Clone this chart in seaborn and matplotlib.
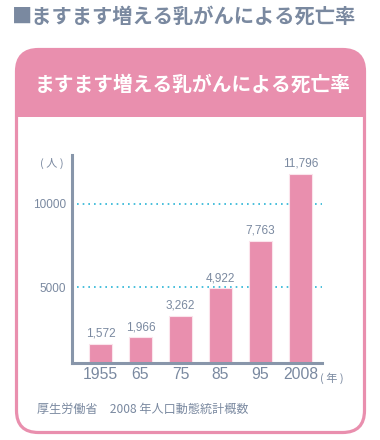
import matplotlib
matplotlib.use("Agg")
import matplotlib.pyplot as plt
import seaborn as sns
import pandas as pd
from matplotlib import font_manager
from matplotlib.patches import FancyBboxPatch, Rectangle

years = ["1955", "65", "75", "85", "95", "2008"]
deaths = [1572, 1966, 3262, 4922, 7763, 11796]
value_labels = ["1,572", "1,966", "3,262", "4,922", "7,763", "11,796"]
yticks = [5000, 10000]
title = "■ますます増える乳がんによる死亡率"
header = "ますます増える乳がんによる死亡率"
source = "厚生労働省　2008 年人口動態統計概数"

names = {f.name for f in font_manager.fontManager.ttflist}
NUM = "Liberation Sans Narrow" if "Liberation Sans Narrow" in names else "Liberation Sans"
JP = ["Noto Sans CJK JP", "DejaVu Sans"]

sns.set_theme(style="white")
plt.rcParams["font.family"] = JP

PINK = "#e98fae"
GRAY = "#7a89a0"
AXC = "#8896aa"
CYAN = "#2ab4d6"

df = pd.DataFrame({"year": years, "deaths": deaths})

fig = plt.figure(figsize=(3.8, 4.4), dpi=100)

# decorative frame in pixel coordinates
bg = fig.add_axes([0, 0, 1, 1])
bg.set_xlim(0, 380)
bg.set_ylim(440, 0)
bg.axis("off")
bg.add_patch(FancyBboxPatch((16.5, 49.5), 348, 100, boxstyle="round,pad=0,rounding_size=22",
                            facecolor=PINK, edgecolor="none"))
bg.add_patch(Rectangle((16.5, 117), 348, 40, facecolor="white", edgecolor="none"))
bg.add_patch(FancyBboxPatch((16.5, 49.5), 348, 383, boxstyle="round,pad=0,rounding_size=22",
                            facecolor="none", edgecolor=PINK, linewidth=2.3))
fig.text(12 / 380, 1 - 16 / 440, title, fontsize=14.6, fontweight="bold", color=GRAY,
         ha="left", va="center")
fig.text(35 / 380, 1 - 85 / 440, header, fontsize=14.2, fontweight="bold", color="white",
         ha="left", va="center")
fig.text(37 / 380, 1 - 409 / 440, source, fontsize=8.7, color=GRAY, ha="left", va="center")

ax = fig.add_axes([72 / 380, 1 - 363 / 440, 250 / 380, 208 / 440])
ax.patch.set_alpha(0)
sns.barplot(data=df, x="year", y="deaths", color=PINK, saturation=1, width=0.575,
            edgecolor="#fbe4ec", linewidth=0.8, ax=ax, zorder=3)
ax.set_xlim(-0.7125, 5.5375)
ax.set_ylim(433, 12933)
for v in yticks:
    ax.axhline(v, xmin=0.02, xmax=1, color=CYAN, linestyle=(0, (1, 2.4)), linewidth=1.2, zorder=1)
ax.bar_label(ax.containers[0], labels=value_labels, padding=3, fontsize=8.5, color=GRAY,
             family=NUM)
ax.set_yticks(yticks)
ax.set_yticklabels([str(v) for v in yticks], family=NUM, fontsize=8.5, color=GRAY)
ax.set_xticklabels(years, family=NUM, fontsize=11.3, color=GRAY)
ax.tick_params(axis="y", length=0, pad=4)
ax.tick_params(axis="x", length=0, pad=3)
ax.set_xlabel("")
ax.set_ylabel("")
for s in ["top", "right"]:
    ax.spines[s].set_visible(False)
for s in ["left", "bottom"]:
    ax.spines[s].set_color(AXC)
    ax.spines[s].set_linewidth(2.2)
    ax.spines[s].set_zorder(5)
ax.grid(False)
ax.text(-0.08, 0.96, "( 人 )", transform=ax.transAxes, fontsize=8, color=GRAY,
        ha="center", va="center")
ax.text(1.04, -0.072, "( 年 )", transform=ax.transAxes, fontsize=8, color=GRAY,
        ha="center", va="center")

fig.savefig("out.png", dpi=100)
